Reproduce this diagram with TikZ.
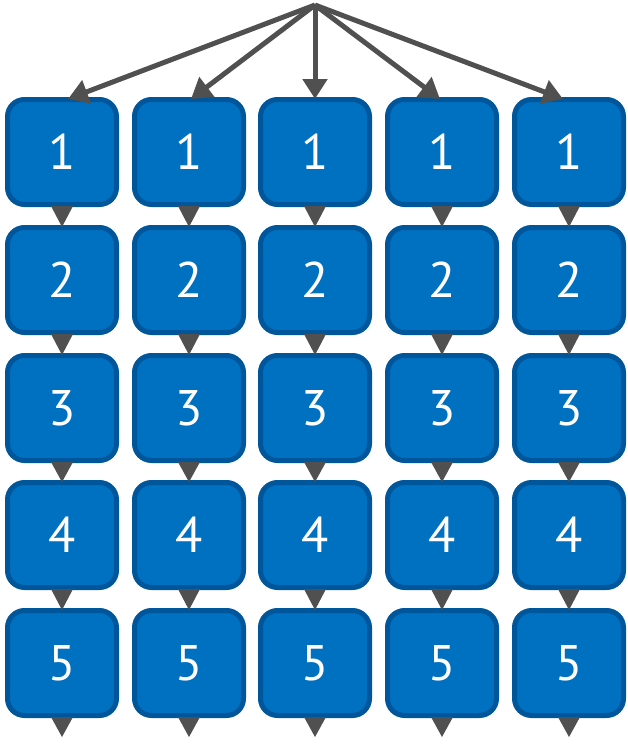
\documentclass[tikz,border=0pt]{standalone}
\usepackage{fontspec}
\setmainfont{PT Sans}
\usetikzlibrary{arrows.meta,calc}
\definecolor{boxfill}{HTML}{0070C0}
\definecolor{boxedge}{HTML}{00569A}
\definecolor{arrgray}{HTML}{505050}
\begin{document}
\begin{tikzpicture}[x=1pt,y=-1pt,
  cell/.style={draw=boxedge,fill=boxfill,line width=5pt,rounded corners=17pt,
    minimum width=109pt,minimum height=105pt,text=white,font=\fontsize{50}{54}\selectfont,inner sep=0pt},
  fanarrow/.style={draw=arrgray,line width=5pt,-{Triangle[length=20pt,width=24pt]}},
  tri/.style={fill=arrgray}]
\useasboundingbox (0,0) rectangle (628,744);
\coordinate (apex) at (315,5);
\foreach \c/\x in {1/62,2/189,3/315,4/442,5/569}{
  \foreach \r/\y in {1/152,2/280,3/408,4/535,5/663}{
    \node[cell] (b-\r-\c) at (\x,\y) {\r};
  }
  \coordinate (end-\c) at (\x,737);
}
\foreach \c/\dx in {1/6,2/2,3/0,4/-2,5/-6}{
  \draw[fanarrow] (apex) -- ($(b-1-\c.north)+(\dx,2)$);
}
\foreach \c in {1,...,5}{
  \foreach \r [evaluate=\r as \n using int(\r+1)] in {1,...,4}{
    \fill[tri] ($(b-\r-\c.south)+(-11,-1)$) -- ($(b-\r-\c.south)+(11,-1)$) -- ($(b-\n-\c.north)+(0,2)$) -- cycle;
  }
  \fill[tri] ($(b-5-\c.south)+(-11,-1)$) -- ($(b-5-\c.south)+(11,-1)$) -- (end-\c) -- cycle;
}
\end{tikzpicture}
\end{document}
